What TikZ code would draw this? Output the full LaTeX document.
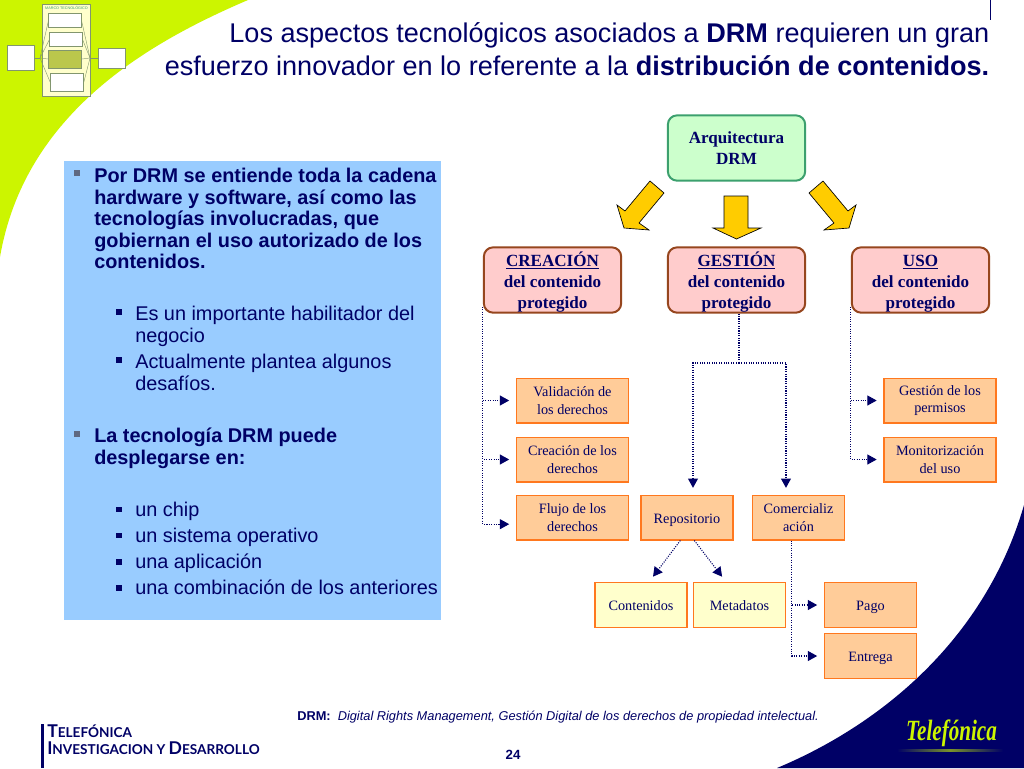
\documentclass[tikz,border=0pt]{standalone}
\usepackage{xcolor}
\usepackage{fontspec}
\setmainfont{Liberation Sans}
\newfontfamily\boxfont{Liberation Serif}
\newfontfamily\brandfont{Lato}
\usetikzlibrary{positioning,arrows.meta,calc}
\definecolor{navy}{RGB}{0,0,102}
\definecolor{lime}{RGB}{204,245,0}
\definecolor{panelblue}{RGB}{153,204,255}
\definecolor{gold}{RGB}{255,204,0}
\definecolor{peach}{RGB}{255,204,153}
\definecolor{edgeorange}{RGB}{255,120,30}
\definecolor{paleyellow}{RGB}{255,255,204}
\definecolor{rootgreen}{RGB}{204,255,204}
\definecolor{rootedge}{RGB}{60,160,110}
\definecolor{pinkfill}{RGB}{255,204,204}
\definecolor{pinkedge}{RGB}{150,70,30}
\definecolor{bulletgrey}{RGB}{95,105,130}
\definecolor{miniedge}{RGB}{130,150,110}
\newcommand{\oneline}{\rule[-3pt]{0pt}{14.5pt}}
\newcommand{\arealine}{\rule{0pt}{13.5pt}}
\tikzset{
  rootbox/.style={draw=rootedge,fill=rootgreen,line width=1.5pt,rounded corners=7pt,
    minimum width=103pt,minimum height=49pt,inner sep=0pt,align=center,text=navy,
    font=\boxfont\bfseries\fontsize{12.8}{15.75}\selectfont},
  areabox/.style={draw=pinkedge,fill=pinkfill,line width=1.5pt,rounded corners=7pt,
    minimum width=103pt,minimum height=49pt,inner sep=0pt,align=center,text=navy,
    font=\boxfont\bfseries\fontsize{12.8}{15.75}\selectfont},
  itembox/.style={draw=edgeorange,fill=peach,line width=1pt,
    minimum width=84pt,minimum height=33.5pt,inner sep=0pt,align=center,text=navy,
    font=\boxfont\fontsize{10.7}{13}\selectfont},
  widebox/.style={itembox,minimum width=69pt},
  leafbox/.style={widebox,fill=paleyellow},
  flowline/.style={navy,densely dotted,line width=.8pt,
    -{Triangle[length=7pt,width=7.5pt]},shorten >=5pt},
  plainflow/.style={navy,densely dotted,line width=.8pt},
  blockarrow/.style={draw=black,fill=gold,line width=.5pt},
  panelbullet/.style={fill=bulletgrey,minimum size=4.5pt,inner sep=0pt},
  subbullet/.style={fill=navy,minimum size=4pt,inner sep=0pt},
  paneltext/.style={anchor=north west,inner sep=0pt,align=left,text=navy,
    font=\fontsize{14.9}{16.1}\selectfont},
  minibox/.style={draw=miniedge,fill=white,line width=.3pt,inner sep=0pt},
  minilink/.style={miniedge,line width=.3pt}
}
\begin{document}
\begin{tikzpicture}[x=.75pt,y=-.75pt]
  \useasboundingbox (0,0) rectangle (1024,768);
  \fill[white] (0,0) rectangle (1024,768);

  \fill[lime] (0,0) -- (248,0) .. controls (150,42) and (25,112) .. (0,257) -- cycle;
  \fill[navy] (1024,505) .. controls (985,640) and (880,725) .. (777,768) -- (1024,768) -- cycle;

  \node[draw=miniedge,fill=paleyellow,line width=.3pt,minimum width=36pt,minimum height=69pt,inner sep=0pt] (miniframe) at (66,50) {};
  \node[anchor=north,inner sep=0pt,text=rootedge,font=\fontsize{2.8}{3}\selectfont] (minititle) at (66.5,6) {MARCO TECNOLÓGICO};
  \node[minibox,minimum width=24.5pt,minimum height=10.5pt] (minia) at (65,20.5) {};
  \node[minibox,minimum width=24.5pt,minimum height=10.5pt] (minib) at (66,39.5) {};
  \node[draw=miniedge,fill=lime!40!olive!70!white,line width=.3pt,minimum width=25pt,minimum height=13.5pt,inner sep=0pt] (minic) at (65,59) {};
  \node[minibox,minimum width=25pt,minimum height=13.5pt] (minid) at (67,82) {};
  \node[minibox,minimum width=20pt,minimum height=19pt] (minileft) at (20.5,58) {};
  \node[minibox,minimum width=20.5pt,minimum height=15pt] (miniright) at (112,58) {};
  \coordinate (minihubl) at (40,58);
  \coordinate (minihubr) at (90,58);
  \draw[minilink] (minileft) -- (minihubl);
  \draw[minilink] (minihubr) -- (miniright);
  \foreach \n in {minia,minib,minic,minid} {
    \draw[minilink] (minihubl) -- (\n.west);
    \draw[minilink] (\n.east) -- (minihubr);
  }

  \node[anchor=north east,inner sep=0pt,align=right,text=navy,font=\fontsize{20.3}{24.8}\selectfont] (title) at (989.5,22)
    {Los aspectos tecnológicos asociados a \textbf{DRM} requieren un gran\\
     esfuerzo innovador en lo referente a la \textbf{distribución de contenidos.}};
  \coordinate (titletick) at (990,0);
  \draw[navy,line width=.6pt] (titletick) -- (990,20);

  \node[fill=panelblue,minimum width=283pt,minimum height=344pt,inner sep=0pt] (panel) at (252.5,390.5) {};
  \node[panelbullet] (bulla) at (77,173) {};
  \node[paneltext] (texta) at (94,168) {\textbf{Por DRM se entiende toda la cadena}\\\textbf{hardware y software, así como las}\\\textbf{tecnologías involucradas, que}\\\textbf{gobiernan el uso autorizado de los}\\\textbf{contenidos.}};
  \node[subbullet] (bullb) at (119,312) {};
  \node[paneltext] (textb) at (135,306) {Es un importante habilitador del\\negocio};
  \node[subbullet] (bullc) at (119,360) {};
  \node[paneltext] (textc) at (135,354) {Actualmente plantea algunos\\desafíos.};
  \node[panelbullet] (bulld) at (77,434) {};
  \node[paneltext] (textd) at (94,428) {\textbf{La tecnología DRM puede}\\\textbf{desplegarse en:}};
  \foreach \name/\ypos/\label in {e/509.5/un chip,f/535.8/un sistema operativo,g/562/una aplicación,h/588/una combinación de los anteriores} {
    \node[subbullet] (bull\name) at (119,\ypos) {};
    \node[paneltext,anchor=base west] (text\name) at (135,\ypos+6.5) {\label};
  }

  \node[rootbox] (root) at (736.5,148) {Arquitectura\\DRM};
  \node[areabox] (crea) at (552.5,280) {\arealine\underline{CREACIÓN}\\del contenido\\protegido};
  \node[areabox] (gest) at (736.5,280) {\arealine\underline{GESTIÓN}\\del contenido\\protegido};
  \node[areabox] (uso) at (920.5,280) {\arealine\underline{USO}\\del contenido\\protegido};

  \draw[blockarrow] (650,181) -- (664,193) -- (639,223) -- (649,230) -- (624,228) -- (617,205) -- (625,211) -- cycle;
  \draw[blockarrow] (724,196) -- (748,196) -- (748,228) -- (761,228) -- (736.5,239) -- (713,228) -- (724,228) -- cycle;
  \draw[blockarrow] (823,181) -- (809,193) -- (834,223) -- (824,230) -- (849,228) -- (856,205) -- (848,211) -- cycle;

  \node[itembox] (vali) at (572.5,400.5) {Validación de\\los derechos};
  \node[itembox] (crde) at (572.5,459.5) {Creación de los\\derechos};
  \node[itembox] (fluj) at (572.5,517.5) {Flujo de los\\derechos};
  \node[widebox] (repo) at (687,517.5) {\oneline Repositorio};
  \node[widebox] (come) at (798.5,517.5) {Comercializ\\ación};
  \node[leafbox] (cont) at (641,605) {\oneline Contenidos};
  \node[leafbox] (meta) at (739.5,605) {\oneline Metadatos};
  \node[widebox] (pago) at (870.5,605) {\oneline Pago};
  \node[widebox] (entr) at (870.5,656) {\oneline Entrega};
  \node[itembox] (perm) at (940,400.5) {Gestión de los\\permisos};
  \node[itembox] (moni) at (940,459.5) {Monitorización\\del uso};

  \draw[flowline] ([yshift=5pt]crea.south west) |- (vali.west);
  \draw[flowline] ([yshift=5pt]crea.south west) |- (crde.west);
  \draw[flowline] ([yshift=5pt]crea.south west) |- ([yshift=-5pt]fluj.west);
  \draw[flowline] ([yshift=5pt]uso.south west) |- (perm.west);
  \draw[flowline] ([yshift=5pt]uso.south west) |- (moni.west);

  \coordinate (gesthub) at (739,363);
  \draw[plainflow] (gest.south -| gesthub) -- (gesthub);
  \draw[flowline] (gesthub) -| ([xshift=4.5pt]repo.north);
  \draw[flowline] (gesthub) -| ([xshift=-9.4pt]come.north);
  \draw[flowline] ([xshift=-5pt]repo.south) -- ([xshift=6pt]cont.north);
  \draw[flowline] ([xshift=5.5pt]repo.south) -- ([xshift=-10pt]meta.north);
  \draw[flowline] ([xshift=-5pt]come.south) |- (pago.west);
  \draw[flowline] ([xshift=-5pt]come.south) |- (entr.west);

  \node[anchor=west,inner sep=0pt,text=navy,font=\fontsize{9.6}{11}\selectfont] (footnote) at (297,717)
    {\textbf{DRM:} \ \textit{Digital Rights Management, Gestión Digital de los derechos de propiedad intelectual.}};
  \node[inner sep=0pt,text=navy,font=\bfseries\fontsize{10}{12}\selectfont] (pagenum) at (513,755) {24};

  \fill[navy] (41,724) rectangle (44,768);
  \node[anchor=west,inner sep=0pt,text=navy,font=\brandfont\bfseries] (brandtop) at (47,731)
    {{\fontsize{13.2}{13}\selectfont T}{\fontsize{10.2}{10}\selectfont ELEFÓNICA}};
  \node[anchor=west,inner sep=0pt,text=navy,font=\brandfont\bfseries] (brandsub) at (47,748)
    {{\fontsize{13.2}{13}\selectfont I}{\fontsize{10.2}{10}\selectfont NVESTIGACION Y }{\fontsize{13.2}{13}\selectfont D}{\fontsize{10.2}{10}\selectfont ESARROLLO}};

  \node[inner sep=0pt,xscale=.72,text=lime,font=\boxfont\bfseries\itshape\fontsize{22}{22}\selectfont] (logo) at (951.5,733) {Telefónica};
  \fill[left color=navy,right color=navy,middle color=lime!60!navy] (897,749.5) rectangle (1003,751);
\end{tikzpicture}
\end{document}
